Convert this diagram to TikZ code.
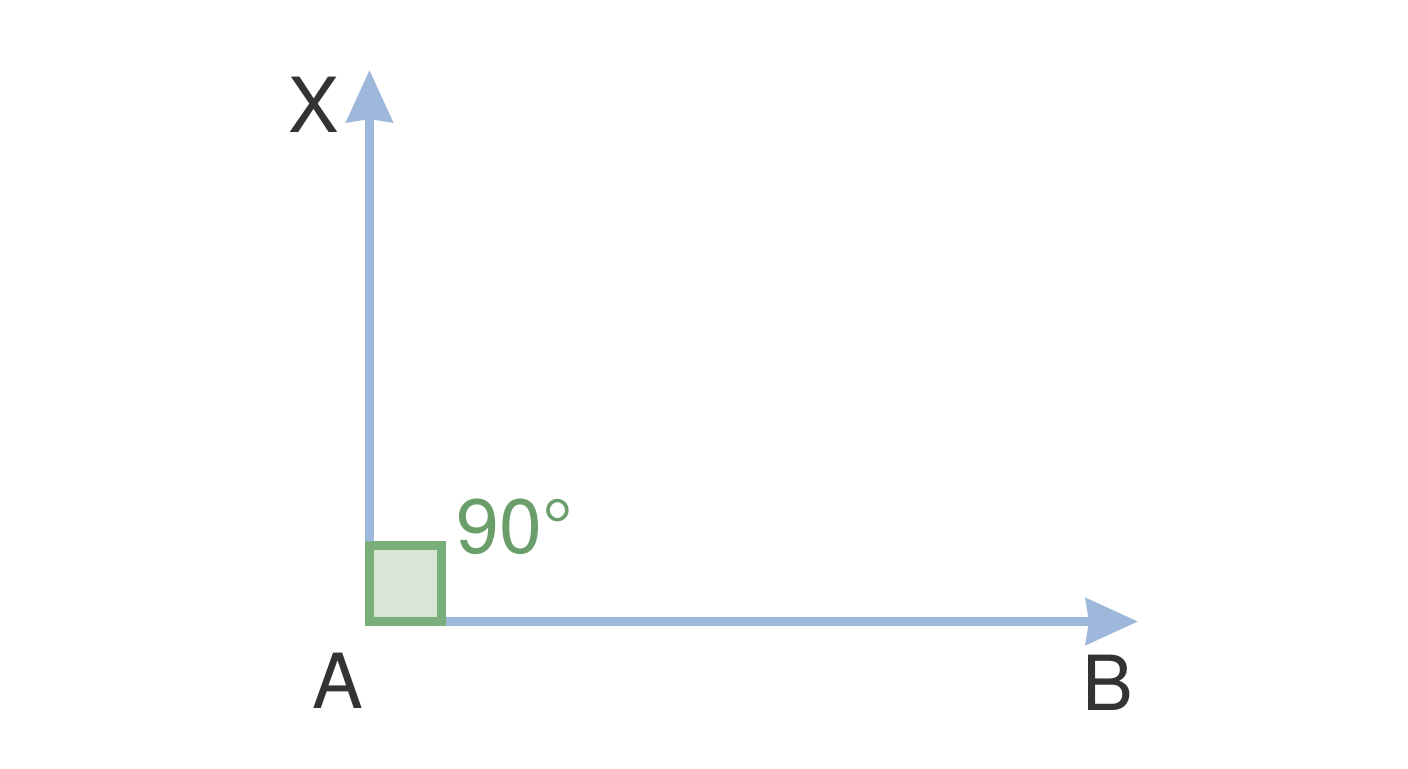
\documentclass[tikz,border=0pt]{standalone}
\usepackage{fontspec}
\setmainfont{TeX Gyre Heros}
\usetikzlibrary{arrows.meta}
\definecolor{axisblue}{HTML}{9DB8DB}
\definecolor{sqstroke}{HTML}{7AAE7B}
\definecolor{sqfill}{HTML}{D8E7D5}
\definecolor{anggreen}{HTML}{6A9E6A}
\definecolor{labgray}{HTML}{333333}
\begin{document}
\begin{tikzpicture}[x=0.5pt,y=-0.5pt,
  axis/.style={draw=axisblue, line width=4.25pt,
    -{Stealth[length=26pt,width=23pt,inset=1.5pt]}},
  rightsq/.style={draw=sqstroke, fill=sqfill, line width=4.5pt},
  ptlabel/.style={text=labgray, inner sep=0pt, font=\fontsize{38}{40}\selectfont},
  anglabel/.style={text=anggreen, inner sep=0pt, font=\fontsize{38.5}{42}\selectfont}]
\useasboundingbox[fill=white] (0,0) rectangle (1408,768);
\coordinate (O) at (369.5,621.5);
\coordinate (Xtip) at (369.5,70);
\coordinate (Btip) at (1138,621.5);
\draw[axis] (O) -- (Xtip);
\draw[axis] (365,621.5) -- (Btip);
\draw[rightsq] (369.5,545.5) rectangle (441.5,621.5);
\node[ptlabel] (X) at (313.5,104.5) {X};
\node[ptlabel] (A) at (338,680.5) {A};
\node[ptlabel] (B) at (1107.5,682.5) {B};
\node[anglabel, anchor=south west] (ang) at (456,555) {90°};
\end{tikzpicture}
\end{document}
